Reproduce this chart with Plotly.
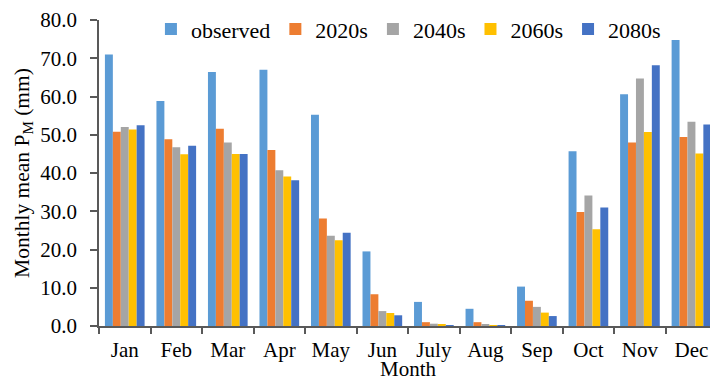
import plotly.graph_objects as go

months = ["Jan", "Feb", "Mar", "Apr", "May", "Jun", "July", "Aug", "Sep", "Oct", "Nov", "Dec"]

observed = [71.0, 58.8, 66.4, 67.0, 55.2, 19.5, 6.3, 4.5, 10.3, 45.7, 60.6, 74.8]
s2020 = [50.8, 48.8, 51.6, 46.0, 28.1, 8.3, 1.0, 1.0, 6.6, 29.8, 48.0, 49.4]
s2040 = [52.0, 46.7, 48.0, 40.7, 23.6, 3.9, 0.6, 0.4, 5.0, 34.1, 64.7, 53.4]
s2060 = [51.4, 44.9, 45.0, 39.1, 22.4, 3.4, 0.3, 0.2, 3.5, 25.3, 50.7, 45.1]
s2080 = [52.5, 47.1, 45.0, 38.1, 24.4, 2.8, 0.1, 0.1, 2.6, 31.0, 68.2, 52.7]

series = [
    ("observed", observed, "#5B9BD5"),
    ("2020s", s2020, "#ED7D31"),
    ("2040s", s2040, "#A5A5A5"),
    ("2060s", s2060, "#FFC000"),
    ("2080s", s2080, "#4472C4"),
]

FONT = "Liberation Serif"
AXIS = "#595959"
FS = 21

fig = go.Figure()
for name, vals, color in series:
    fig.add_trace(go.Bar(name=name, x=months, y=vals, marker=dict(color=color, line=dict(width=0))))

# plot area: left edge 99 px, bottom edge 325.5 px, height 305.5 px
fig.update_layout(
    width=710,
    height=381,
    margin=dict(l=99, r=0, t=20, b=55),
    paper_bgcolor="white",
    plot_bgcolor="white",
    barmode="group",
    bargap=0.23,
    bargroupgap=0,
    font=dict(family=FONT, size=FS, color="black"),
    legend=dict(
        orientation="h",
        x=0.085,
        xanchor="left",
        y=0.97,
        yanchor="middle",
        bgcolor="rgba(0,0,0,0)",
        font=dict(family=FONT, size=22, color="black"),
    ),
    xaxis=dict(
        range=[-0.5, 11.36],
        showline=True,
        linecolor=AXIS,
        linewidth=1.5,
        ticks="outside",
        tickson="boundaries",
        ticklen=6,
        tickcolor=AXIS,
        tickwidth=1.5,
        ticklabelstandoff=4,
        showgrid=False,
        tickfont=dict(family=FONT, size=FS, color="black"),
    ),
    yaxis=dict(
        range=[0, 80],
        dtick=10,
        tickformat=".1f",
        showline=True,
        linecolor=AXIS,
        linewidth=1.5,
        ticks="outside",
        ticklen=7,
        tickcolor=AXIS,
        tickwidth=1.5,
        ticklabelstandoff=9,
        showgrid=False,
        zeroline=False,
        tickfont=dict(family=FONT, size=FS, color="black"),
        title=dict(
            text="Monthly mean P<sub>M</sub> (mm)",
            font=dict(family=FONT, size=21.5, color="black"),
            standoff=5,
        ),
    ),
    annotations=[
        dict(
            text="Month",
            xref="paper",
            yref="paper",
            x=(408 - 99) / 611,
            y=-(368 - 325.5) / 305.5,
            xanchor="center",
            yanchor="middle",
            borderpad=0,
            showarrow=False,
            font=dict(family=FONT, size=FS, color="black"),
        )
    ],
)

fig.write_html("out.html")
